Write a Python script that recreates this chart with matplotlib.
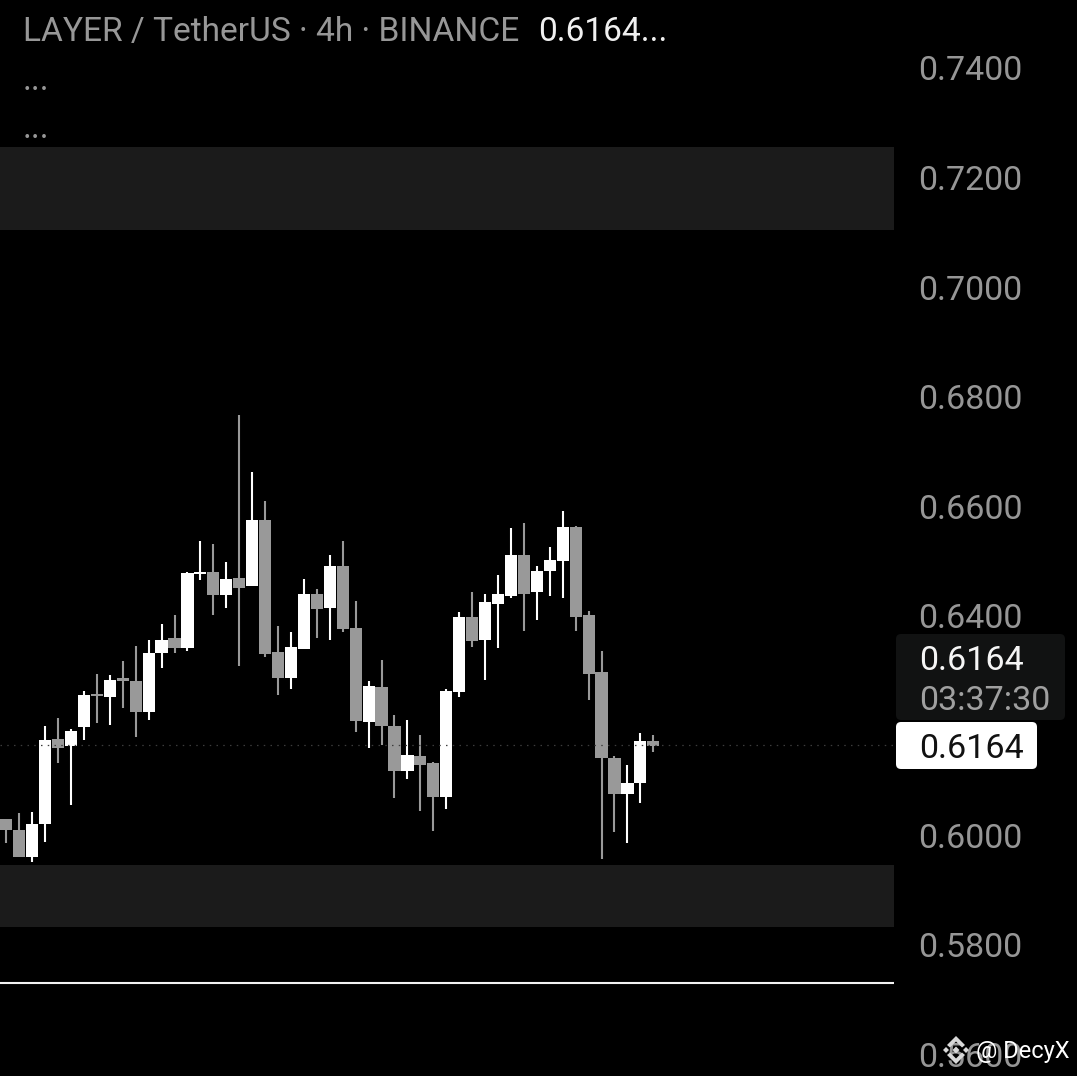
import matplotlib
matplotlib.use("Agg")
import matplotlib.pyplot as plt
from matplotlib.patches import FancyBboxPatch, Polygon
from matplotlib.transforms import Affine2D
import numpy as np

plt.rcParams['font.family'] = ['Roboto', 'DejaVu Sans']

# OHLC
opens = [0.6030,0.6009,0.5961,0.6020,0.6176,0.6162,0.6197,0.6256,0.6252,0.6286,0.6282,0.6224,0.6333,0.6359,0.6341,
         0.6476,0.6480,0.6438,0.6470,0.6454,0.6576,0.6335,0.6286,0.6339,0.6441,0.6414,
         0.6492,0.6378,0.6206,0.6270,0.6200,0.6118,0.6144,0.6131,0.6069,0.6261,0.6398,0.6356,0.6421,0.6436,
         0.6511,0.6443,0.6482,0.6500,0.6562,0.6401,0.6297,0.6140,0.6076,0.6095,0.6171]
closes = [0.6009,0.5961,0.6021,0.6174,0.6160,0.6191,0.6255,0.6254,0.6284,0.6281,0.6224,0.6333,0.6357,0.6341,0.6478,
          0.6480,0.6438,0.6468,0.6452,0.6576,0.6331,0.6286,0.6344,0.6441,0.6412,0.6492,
          0.6376,0.6208,0.6272,0.6200,0.6118,0.6146,0.6129,0.6069,0.6264,0.6398,0.6354,0.6425,0.6440,0.6511,
          0.6441,0.6483,0.6502,0.6562,0.6399,0.6295,0.6140,0.6076,0.6096,0.6171,0.6162]
highs = [0.6030,0.6041,0.6043,0.6199,0.6214,0.6194,0.6264,0.6295,0.6293,0.6318,0.6346,0.6357,0.6386,0.6401,0.6481,
         0.6536,0.6532,0.6499,0.6766,0.6663,0.6609,0.6382,0.6371,0.6468,0.6450,0.6512,
         0.6536,0.6428,0.6282,0.6320,0.6219,0.6211,0.6182,0.6134,0.6266,0.6407,0.6443,0.6440,0.6474,0.6561,
         0.6570,0.6492,0.6525,0.6592,0.6565,0.6410,0.6337,0.6144,0.6129,0.6186,0.6182]
lows = [0.5986,0.5961,0.5952,0.5988,0.6131,0.6056,0.6174,0.6205,0.6202,0.6233,0.6180,0.6211,0.6306,0.6333,0.6337,
        0.6465,0.6401,0.6415,0.6309,0.6454,0.6326,0.6255,0.6266,0.6339,0.6360,0.6357,
        0.6370,0.6189,0.6160,0.6165,0.6068,0.6103,0.6045,0.6008,0.6048,0.6253,0.6344,0.6284,0.6342,0.6432,
        0.6373,0.6392,0.6437,0.6432,0.6373,0.6247,0.5957,0.6005,0.5986,0.6059,0.6152]
tick_values = [0.74,0.72,0.70,0.68,0.66,0.64,0.60,0.58,0.56]
zones = [(0.71044,0.72558),(0.58325,0.59456)]
level = 0.57312
last_price = 0.6164

W, H = 1077, 1076
fig = plt.figure(figsize=(W/100, H/100), dpi=100, facecolor='black')
ax = fig.add_axes([0, 0, 1, 1], facecolor='black')
STEP = 12.94
ax.set_xlim(-6.3/STEP, (W-6.3)/STEP)
ax.set_ylim(0.74-1008/5480, 0.74+68/5480)
for s in ax.spines.values():
    s.set_visible(False)

xright = (894-6.3)/STEP
xleft = -6.3/STEP
for lo, hi in zones:
    ax.fill_between([xleft, xright], lo, hi, color='#1b1b1b', lw=0, zorder=1)
ax.plot([xleft, xright], [level, level], color='#f2f2f2', lw=1.5, zorder=2, solid_capstyle='butt')
ax.plot([xleft, xright], [last_price, last_price], color='#3c3c3c', lw=0.9,
        ls=(0, (1.2, 4.2)), zorder=5)

WHITE, GRAY = '#ffffff', '#999999'
x = np.arange(len(opens))
cols = [WHITE if c >= o else GRAY for o, c in zip(opens, closes)]
ax.vlines(x, lows, highs, colors=cols, lw=1.5, zorder=3)
ax.bar(x, [max(abs(c-o), 0.0004) for o, c in zip(opens, closes)],
       bottom=[min(o, c) for o, c in zip(opens, closes)],
       width=0.94, color=cols, lw=0, zorder=4)

# price axis
ax.yaxis.tick_right()
ax.set_xticks([])
ax.set_yticks(tick_values)
ax.set_yticklabels([f'{v:.4f}' for v in tick_values], color='#969696', fontsize=24.5, ha='left')
ax.tick_params(axis='y', length=0, pad=-114.4)

px = Affine2D().scale(1, -1).translate(0, H)  # pixel coordinates, y downwards

# price label boxes
fig.patches.append(FancyBboxPatch((899, 637), 163, 80, boxstyle='round,pad=3,rounding_size=5',
                                  fc='#111212', ec='none', transform=px, figure=fig, zorder=6))
fig.patches.append(FancyBboxPatch((899, 725), 135, 41, boxstyle='round,pad=3,rounding_size=5',
                                  fc='#ffffff', ec='none', transform=px, figure=fig, zorder=6))
def t(xp, yp, s, color, size, **kw):
    fig.text(xp, yp, s, color=color, fontsize=size, transform=px, va='center_baseline', zorder=8, **kw)

t(919.5, 658, '0.6164', '#f5f5f5', 24.5)
t(919.5, 697.5, '03:37:30', '#a0a0a0', 24.5)
t(919.5, 746, '0.6164', '#111111', 24.5)

# header
t(23, 28.5, 'LAYER / TetherUS · 4h · BINANCE', '#979797', 24.1)
t(538, 28.5, '0.6164...', '#f0f0f0', 24.1)
t(23, 77, '...', '#979797', 24.1)
t(23, 125, '...', '#979797', 24.1)

# watermark
LOGO = '#d8d8d8'
cx, cy = 956, 1050
def diamond(dx, dy, r):
    fig.patches.append(Polygon([(cx+dx, cy+dy-r), (cx+dx+r, cy+dy), (cx+dx, cy+dy+r), (cx+dx-r, cy+dy)],
                               closed=True, fc=LOGO, ec='none', transform=px, figure=fig, zorder=9))
def chevron(sign):
    pts = [(cx-9, cy+sign*5), (cx, cy+sign*14), (cx+9, cy+sign*5), (cx+6, cy+sign*2.5),
           (cx, cy+sign*8.5), (cx-6, cy+sign*2.5)]
    fig.patches.append(Polygon(pts, closed=True, fc=LOGO, ec='none', transform=px, figure=fig, zorder=9))
diamond(0, 0, 3.5)
diamond(-10, 0, 3)
diamond(10, 0, 3)
chevron(1)
chevron(-1)
t(976, 1049, '@ DecyX', '#ffffff', 17)

fig.savefig('out.png', dpi=100, facecolor='black')
